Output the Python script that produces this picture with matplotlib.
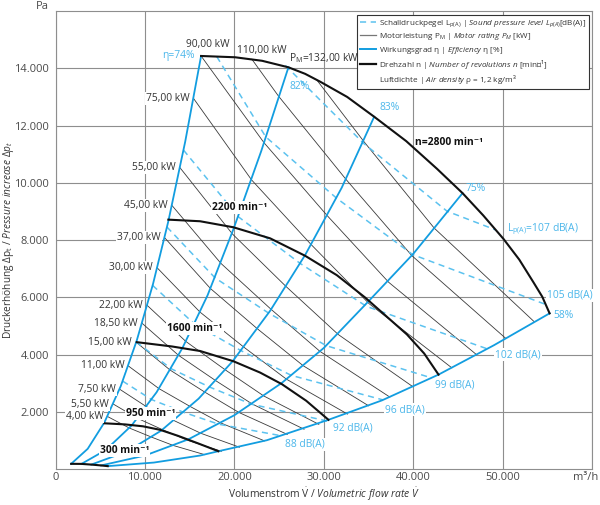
import matplotlib.pyplot as plt
from matplotlib.lines import Line2D

plt.rcParams['font.family'] = ['Open Sans', 'DejaVu Sans']
plt.rcParams['mathtext.fontset'] = 'custom'
plt.rcParams['mathtext.rm'] = 'Open Sans'
plt.rcParams['mathtext.it'] = 'Open Sans:italic'
plt.rcParams['mathtext.bf'] = 'Open Sans:bold'

# speed curves n [min-1]  (flow m3/h, pressure Pa)
n300_v = [1750, 2900, 4000, 5100, 5840]
n300_p = [180, 178, 154, 124, 100]
n950_v = [5459, 7774, 9788, 11689, 13703, 15940, 18211]
n950_p = [1597, 1558, 1491, 1369, 1158, 895, 621]
n1600_v = [9083, 13032, 16164, 19889, 22876, 25303, 28021, 30516]
n1600_p = [4432, 4281, 4123, 3765, 3369, 2965, 2386, 1719]
n2200_v = [12618, 16164, 19889, 23994, 27909, 31455, 34621, 39285, 41220, 42820]
n2200_p = [8713, 8657, 8446, 8060, 7450, 6772, 5990, 4702, 4035, 3298]
n2800_v = [16276, 20079, 23099, 26041, 27909, 29587, 32607, 35627, 39207, 42641,
           45505, 47821, 50091, 51847, 53447, 54420, 55237]
n2800_p = [14432, 14387, 14264, 14036, 13808, 13534, 13001, 12309, 11457, 10492,
           9639, 8860, 8036, 7316, 6516, 6018, 5439]

# efficiency lines eta [%]
eta74_v = [1750, 3600, 5460, 7300, 9083, 10900, 12620, 14500, 16276]
eta74_p = [180, 705, 1622, 2899, 4488, 6463, 8664, 11438, 14432]
eta82_v = [2900, 5600, 8500, 11300, 14200, 17000, 19890, 23000, 26041]
eta82_p = [178, 659, 1517, 2681, 4234, 6069, 8380, 11109, 14036]
eta83_v = [4000, 8000, 11800, 16000, 19800, 24000, 27909, 32000, 35627]
eta83_p = [154, 614, 1337, 2458, 3764, 5530, 7478, 9830, 12309]
eta75_v = [5100, 10000, 14850, 20000, 25300, 30000, 34900, 40000, 45505]
eta75_p = [124, 470, 1036, 1880, 3008, 4230, 5830, 7520, 9639]
eta58_v = [5840, 11000, 16164, 18211, 23625, 30516, 36500, 42820, 49000, 55237]
eta58_p = [100, 225, 470, 621, 1005, 1719, 2398, 3298, 4322, 5439]

# motor rating lines P_M [kW]
kw_names = ['4,00 kW', '5,50 kW', '7,50 kW', '11,00 kW', '15,00 kW', '18,50 kW', '22,00 kW',
            '30,00 kW', '37,00 kW', '45,00 kW', '55,00 kW', '75,00 kW', '90,00 kW',
            '110,00 kW', 'P$_{\\mathrm{M}}$=132,00 kW']
kw_v = [[5808, 8255, 10758, 13196, 16679],
        [6458, 9179, 11963, 14674, 18547],
        [7161, 10178, 13265, 16272, 20567],
        [8137, 11565, 15072, 18488, 23368],
        [9023, 12824, 16714, 20502, 25913],
        [9676, 13753, 17924, 21987, 27789],
        [10251, 14570, 18989, 23293, 29441],
        [11368, 16157, 21058, 25830, 32648],
        [12191, 17327, 22582, 27701, 35012],
        [13013, 18496, 24105, 29569, 37372],
        [13913, 19776, 25773, 31615, 39958],
        [15429, 21929, 28580, 35058, 44310],
        [16276, 23303, 30371, 37254, 47086],
        [21950, 24915, 32471, 39831, 50344],
        [29220, 34506, 42327, 53498]]
kw_p = [[1835, 1431, 1111, 819, 501],
        [2269, 1769, 1374, 1012, 619],
        [2790, 2175, 1689, 1245, 761],
        [3602, 2809, 2181, 1607, 983],
        [4429, 3454, 2682, 1976, 1209],
        [5093, 3972, 3084, 2272, 1390],
        [5717, 4458, 3462, 2550, 1560],
        [7030, 5482, 4257, 3136, 1919],
        [8085, 6305, 4896, 3607, 2207],
        [9212, 7184, 5578, 4109, 2514],
        [10530, 8213, 6377, 4698, 2874],
        [12950, 10098, 7842, 5777, 3534],
        [14432, 11404, 8855, 6523, 3991],
        [14320, 13036, 10122, 7457, 4562],
        [13590, 11430, 8421, 5152]]

# sound pressure level lines L_pA [dB(A)]
db_names = ['88 dB(A)', '92 dB(A)', '96 dB(A)', '99 dB(A)', '102 dB(A)', '105 dB(A)',
            'L$_{\\mathrm{p(A)}}$=107 dB(A)']
db_v = [[7512, 10745, 14355, 18245, 25336],
        [9032, 12919, 17258, 21937, 30460],
        [10859, 15532, 20750, 26375, 36620],
        [12466, 17834, 23823, 30280, 42047],
        [14312, 20476, 27353, 34771, 48286],
        [18030, 23507, 31405, 39929, 54800],
        [25700, 34435, 43777, 49160]]
db_p = [[3070, 2425, 1978, 1565, 1155],
        [4438, 3505, 2859, 2262, 1670],
        [6415, 5066, 4133, 3270, 2414],
        [8454, 6679, 5448, 4309, 3182],
        [11143, 8805, 7183, 5682, 4197],
        [14411, 11604, 9468, 7493, 5750],
        [14100, 11383, 9007, 8360]]
db_label_at = [(25672, 867), (31075, 1428), (36860, 2070), (42450, 2948),
               (49160, 4000), (54945, 6071), (50490, 8386)]

x_ticks = [0, 10000, 20000, 30000, 40000, 50000, 60000]
x_tick_labels = ['0', '10.000', '20.000', '30.000', '40.000', '50.000', '']
y_ticks = [2000, 4000, 6000, 8000, 10000, 12000, 14000]

BLUE = '#129de0'
LIGHT = '#5cc2ef'
LTXT = '#4ab6ea'
GRID = '#8e8e8e'
TICK = '#4a4a4a'

fig = plt.figure(figsize=(6, 5.05), dpi=100)
ax = fig.add_axes([0.0925, 0.0713, 0.8945, 0.9067])
ax.set_xlim(0, 60000)
ax.set_ylim(0, 16000)

ax.set_xticks(x_ticks)
ax.set_xticklabels(x_tick_labels)
ax.set_yticks(y_ticks)
ax.set_yticklabels([f"{v:,}".replace(',', '.') for v in y_ticks])
ax.tick_params(length=0, labelsize=8, colors=TICK)
ax.tick_params(axis='x', pad=2.5)
ax.tick_params(axis='y', pad=4.5)
ax.grid(color=GRID, lw=0.8, zorder=0)
ax.set_axisbelow(True)
for s in ax.spines.values():
    s.set_color(GRID)
    s.set_linewidth(0.8)

lbl_kw = dict(fontsize=7.4, color='#333333', zorder=6)
wbox = dict(boxstyle='square,pad=0.1', fc='white', ec='none')

# motor rating lines
for i, name in enumerate(kw_names):
    ax.plot(kw_v[i], kw_p[i], color='#3a3a3a', lw=0.6, zorder=2)
    if i < 12:
        ax.annotate(name, (kw_v[i][0], kw_p[i][0]), xytext=(-4, 0), textcoords='offset pixels',
                    ha='right', va='center', bbox=wbox, **lbl_kw)
ax.annotate(kw_names[12], (kw_v[12][0], kw_p[12][0]), xytext=(7, 11), textcoords='offset pixels',
            ha='center', va='center', **lbl_kw)
ax.annotate(kw_names[13], (kw_v[13][0], kw_p[13][0]), xytext=(10, 9), textcoords='offset pixels',
            ha='center', va='center', **lbl_kw)
ax.annotate(kw_names[14], (kw_v[14][0], kw_p[14][0]), xytext=(7, 22), textcoords='offset pixels',
            ha='center', va='center', **lbl_kw)

# sound pressure level lines
for i, name in enumerate(db_names):
    ax.plot(db_v[i], db_p[i], color=LIGHT, lw=1.1, dashes=(4, 3), zorder=2.5)
    ax.text(db_label_at[i][0], db_label_at[i][1], name, fontsize=7.4, color=LTXT,
            ha='left', va='center', bbox=wbox, zorder=6)

# efficiency lines
for v, p in [(eta74_v, eta74_p), (eta82_v, eta82_p), (eta83_v, eta83_p),
             (eta75_v, eta75_p), (eta58_v, eta58_p)]:
    ax.plot(v, p, color=BLUE, lw=1.3, zorder=3)

eta_lbl = dict(fontsize=7.4, color=LTXT, textcoords='offset pixels', va='center', zorder=6)
ax.annotate('η=74%', (eta74_v[-1], eta74_p[-1]), xytext=(-6, 0), ha='right', **eta_lbl)
ax.annotate('82%', (eta82_v[-1], eta82_p[-1]), xytext=(1, -19), ha='left', **eta_lbl)
ax.annotate('83%', (eta83_v[-1], eta83_p[-1]), xytext=(5, 9), ha='left', **eta_lbl)
ax.annotate('75%', (eta75_v[-1], eta75_p[-1]), xytext=(3, 5), ha='left', **eta_lbl)
ax.annotate('58%', (eta58_v[-1], eta58_p[-1]), xytext=(4, -2), ha='left', **eta_lbl)

# speed curves
for v, p in [(n300_v, n300_p), (n950_v, n950_p), (n1600_v, n1600_p),
             (n2200_v, n2200_p), (n2800_v, n2800_p)]:
    ax.plot(v, p, color='#111111', lw=1.5, zorder=4, solid_joinstyle='round')

spd = dict(fontsize=7.4, fontweight='bold', color='#111111', ha='center', va='center', zorder=6)
ax.text(43960, 11403, 'n=2800 min⁻¹', **spd)
ax.text(20640, 9123, '2200 min⁻¹', bbox=wbox, **spd)
ax.text(15605, 4902, '1600 min⁻¹', bbox=wbox, **spd)
ax.text(10593, 1955, '950 min⁻¹', bbox=wbox, **spd)
ax.text(7696, 642, '300 min⁻¹', bbox=wbox, **spd)

ax.set_xlabel('Volumenstrom $\\dot{\\mathrm{V}}$ / $\\mathit{Volumetric\\ flow\\ rate\\ \\dot{V}}$',
              fontsize=7.4, color='#333333', labelpad=2)
ax.set_ylabel('Druckerhöhung Δp$_{\\mathrm{t}}$ / $\\mathit{Pressure\\ increase\\ \\Delta p_t}$',
              fontsize=7.3, color='#333333')
ax.yaxis.set_label_coords(-0.0735, 0.5)
fig.text(42.7 / 600, 1 - 6.7 / 505, 'Pa', fontsize=8, color=TICK, ha='center', va='center')
fig.text(586 / 600, 1 - 477.5 / 505, 'm³/h', fontsize=8, color=TICK, ha='center', va='center')

handles = [Line2D([], [], color=LIGHT, lw=1.1, dashes=(4, 3)),
           Line2D([], [], color='#777777', lw=0.9),
           Line2D([], [], color=BLUE, lw=1.4),
           Line2D([], [], color='#111111', lw=1.6),
           Line2D([], [], color='none')]
labels = ['Schalldruckpegel L$_{\\mathrm{p(A)}}$ | $\\mathit{Sound\\ pressure\\ level\\ L_{p(A)}}$[dB(A)]',
          'Motorleistung P$_{\\mathrm{M}}$ | $\\mathit{Motor\\ rating\\ P_M}$ [kW]',
          'Wirkungsgrad η | $\\mathit{Efficiency}$ η [%]',
          'Drehzahl n | $\\mathit{Number\\ of\\ revolutions\\ n}$ [min⁻¹]',
          'Luftdichte | $\\mathit{Air\\ density}$ ρ = 1,2 kg/m³']
leg = ax.legend(handles, labels, loc='upper right', bbox_to_anchor=(0.9944, 0.9913),
                fontsize=5.85, frameon=True, fancybox=False, framealpha=1,
                edgecolor='#333333', handlelength=2.0, handletextpad=0.4,
                borderpad=0.35, labelspacing=0.3, borderaxespad=0)
leg.get_frame().set_linewidth(0.8)
for t in leg.get_texts():
    t.set_color('#333333')
leg.set_zorder(10)

fig.savefig('out.png', dpi=100)
